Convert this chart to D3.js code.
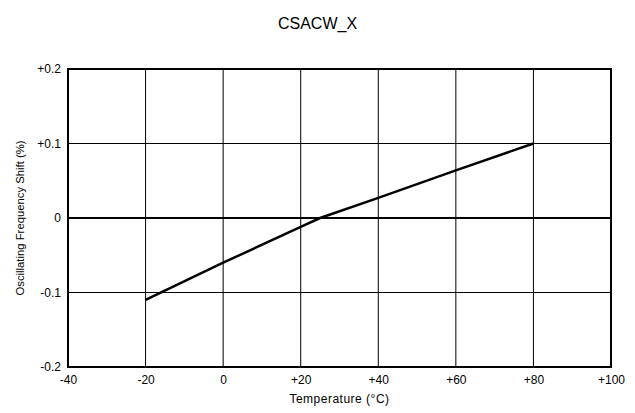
<!DOCTYPE html>
<html><head><meta charset="utf-8">
<script src="https://cdn.jsdelivr.net/npm/d3@7"></script>
<style>body{margin:0;background:#fff}svg{display:block}text{font-family:"Liberation Sans",Arial,sans-serif;fill:#000}</style>
</head><body>
<script>
const title = "CSACW_X";
const temps = [-20, 0, 20, 25, 40, 60, 80];
const shifts = [-0.11, -0.06, -0.012, 0, 0.027, 0.064, 0.1];
const xTicks = [-40, -20, 0, 20, 40, 60, 80, 100];
const yTicks = [-0.2, -0.1, 0, 0.1, 0.2];
const xLabel = "Temperature (°C)";
const yLabel = "Oscillating Frequency Shift (%)";

const W = 635, H = 413;
const m = {l: 68, r: 24, t: 69, b: 46};
const svg = d3.select("body").append("svg").attr("width", W).attr("height", H);
const x = d3.scaleLinear().domain([-40, 100]).range([m.l, W - m.r]);
const y = d3.scaleLinear().domain([-0.2, 0.2]).range([H - m.b, m.t]);
const fmtX = d => d > 0 ? "+" + d : "" + d;
const fmtY = d => d === 0 ? "0" : (d > 0 ? "+" : "") + d.toFixed(1);

// grid
svg.append("g").selectAll("line").data(xTicks.slice(1, -1)).join("line")
  .attr("x1", d => x(d)).attr("x2", d => x(d)).attr("y1", y(-0.2)).attr("y2", y(0.2))
  .attr("stroke", "#000").attr("stroke-width", 1);
svg.append("g").selectAll("line").data(yTicks.slice(1, -1)).join("line")
  .attr("y1", d => y(d)).attr("y2", d => y(d)).attr("x1", x(-40)).attr("x2", x(100))
  .attr("stroke", "#000").attr("stroke-width", d => d === 0 ? 2 : 1);

// frame
svg.append("rect").attr("x", x(-40)).attr("y", y(0.2))
  .attr("width", x(100) - x(-40)).attr("height", y(-0.2) - y(0.2))
  .attr("fill", "none").attr("stroke", "#000").attr("stroke-width", 2);

// axes labels via d3 axes (no domain/ticks lines)
const ax = svg.append("g").attr("transform", `translate(0,${y(-0.2)})`)
  .call(d3.axisBottom(x).tickValues(xTicks).tickFormat(fmtX).tickSize(0).tickPadding(8));
ax.select(".domain").remove();
ax.selectAll("text").attr("font-size", 12).attr("font-family", "Liberation Sans, Arial, sans-serif").attr("fill", "#000");
const ay = svg.append("g").attr("transform", `translate(${x(-40)},0)`)
  .call(d3.axisLeft(y).tickValues(yTicks).tickFormat(fmtY).tickSize(0).tickPadding(7));
ay.select(".domain").remove();
ay.selectAll("text").attr("font-size", 12).attr("font-family", "Liberation Sans, Arial, sans-serif").attr("fill", "#000");

// line
const data = temps.map((t, i) => [t, shifts[i]]);
svg.append("path").datum(data)
  .attr("d", d3.line().x(d => x(d[0])).y(d => y(d[1])))
  .attr("fill", "none").attr("stroke", "#000").attr("stroke-width", 2.5);

// titles
svg.append("text").attr("x", W / 2).attr("y", 29).attr("text-anchor", "middle")
  .attr("font-size", 16).text(title);
svg.append("text").attr("x", (x(-40) + x(100)) / 2).attr("y", 403).attr("text-anchor", "middle")
  .attr("font-size", 12).attr("letter-spacing", 0.5).text(xLabel);
svg.append("text").attr("transform", `translate(24,${(y(-0.2) + y(0.2)) / 2}) rotate(-90)`)
  .attr("text-anchor", "middle").attr("font-size", 11.3).text(yLabel);
</script>
</body></html>
